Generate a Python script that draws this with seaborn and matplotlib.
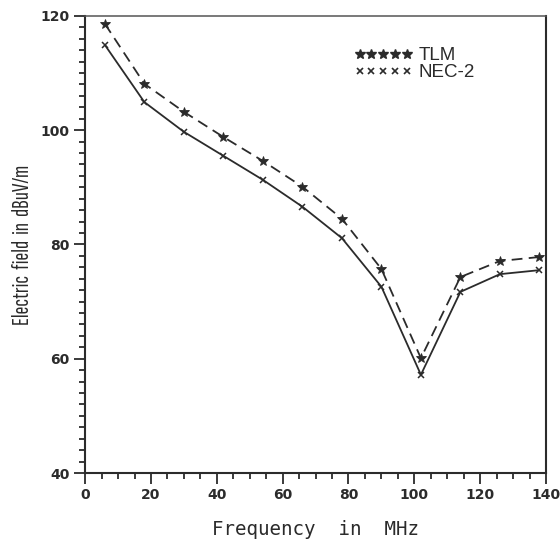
import matplotlib
matplotlib.use("Agg")
import matplotlib.pyplot as plt
from matplotlib.lines import Line2D
from matplotlib.ticker import MultipleLocator
import seaborn as sns
import pandas as pd

# Field strength vs frequency, TLM simulation and NEC-2 reference
freq_mhz = [6, 18, 30, 42, 54, 66, 78, 90, 102, 114, 126, 138]
tlm_dbuv = [118.6, 108.1, 103.2, 98.8, 94.6, 90.1, 84.5, 75.7, 60.1, 74.3, 77.1, 77.8]
nec2_dbuv = [114.9, 104.9, 99.7, 95.5, 91.3, 86.6, 81.1, 72.6, 57.2, 71.7, 74.8, 75.5]
series_names = ["TLM", "NEC-2"]
x_ticks = [0, 20, 40, 60, 80, 100, 120, 140]
y_ticks = [40, 60, 80, 100, 120]

sns.set_style("ticks")
plt.rcParams["font.family"] = ["DejaVu Sans"]

narrow_fonts = ["Saira Extra Condensed", "Sofia Sans Extra Condensed",
                "League Gothic", "Pathway Gothic One", "Oswald",
                "Roboto Condensed", "DejaVu Sans"]

ink = "#2b2b2b"
fig = plt.figure(figsize=(5.6, 5.45), dpi=100)
ax = fig.add_axes([0.152, 0.132, 0.823, 0.839])

df_tlm = pd.DataFrame({"freq": freq_mhz, "field": tlm_dbuv})
df_nec = pd.DataFrame({"freq": freq_mhz, "field": nec2_dbuv})

sns.lineplot(data=df_tlm, x="freq", y="field", ax=ax, color=ink, lw=1.3,
             linestyle=(0, (6, 3.5)), marker="*", markersize=7.5,
             markeredgewidth=0.6, markeredgecolor=ink)
sns.lineplot(data=df_nec, x="freq", y="field", ax=ax, color=ink, lw=1.3,
             linestyle="-", marker="x", markersize=4.5, markeredgewidth=1.1,
             markeredgecolor=ink)

ax.set_xlim(0, 140)
ax.set_ylim(40, 120)
ax.set_xticks(x_ticks)
ax.set_yticks(y_ticks)
ax.xaxis.set_minor_locator(MultipleLocator(5))
ax.yaxis.set_minor_locator(MultipleLocator(2))

for side in ["left", "right", "top", "bottom"]:
    ax.spines[side].set_visible(True)
    ax.spines[side].set_color(ink)
    ax.spines[side].set_linewidth(1.5)
ax.spines["top"].set_color("#555555")
ax.spines["top"].set_linewidth(1.1)

ax.tick_params(axis="both", which="major", direction="out", length=8,
               width=1.3, color=ink, labelsize=10, labelcolor=ink, pad=3)
ax.tick_params(axis="both", which="minor", direction="out", length=4.5,
               width=1.3, color=ink)
for lab in ax.get_xticklabels() + ax.get_yticklabels():
    lab.set_fontweight("bold")

ax.set_xlabel("Frequency  in  MHz", family="DejaVu Sans Mono", fontsize=13.8,
              color=ink, labelpad=13)
ax.set_ylabel("Electric  field  in  dBuV/m", family=narrow_fonts,
              fontsize=17, color=ink, labelpad=5)

handles = [
    Line2D([], [], linestyle="none", marker="*", markersize=7, color=ink),
    Line2D([], [], linestyle="none", marker="x", markersize=4,
           markeredgewidth=1.2, color=ink),
]
leg = ax.legend(handles, series_names, loc="upper left",
                bbox_to_anchor=(0.555, 0.96), frameon=False, numpoints=5,
                handlelength=3.1, handletextpad=0.35, labelspacing=0.0,
                fontsize=13.5, borderpad=0.2)
for t in leg.get_texts():
    t.set_color(ink)
    t.set_family(["Liberation Sans", "DejaVu Sans"])

fig.savefig("out.png", dpi=100, facecolor="white")
